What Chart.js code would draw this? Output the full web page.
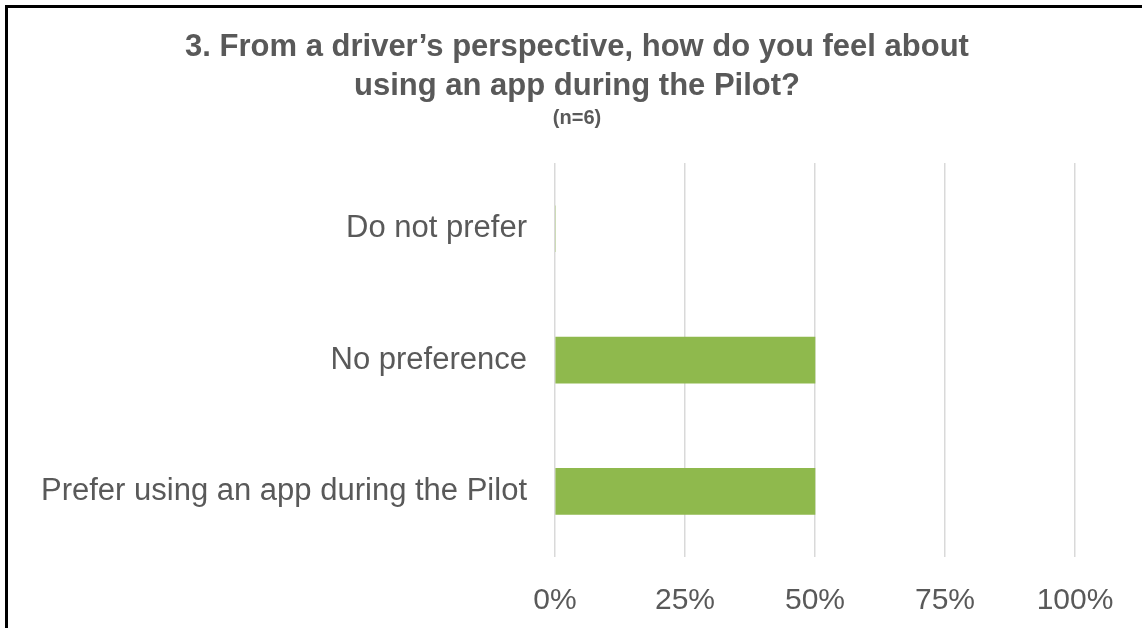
<!DOCTYPE html>
<html>
<head>
<meta charset="utf-8">
<script src="https://cdn.jsdelivr.net/npm/chart.js@4"></script>
<style>
    html, body { margin: 0; padding: 0; background: #fff; }
    #wrap { position: relative; width: 1142px; height: 628px; overflow: hidden; }
    #frame {
        position: absolute; left: 5px; top: 5px; width: 1200px; height: 700px;
        border-left: 3px solid #000; border-top: 3px solid #000; pointer-events: none;
    }
</style>
</head>
<body>
<div id="wrap">
    <canvas id="surveyChart" width="1142" height="628"></canvas>
    <div id="frame"></div>
</div>
<script>
// Chart data
const titleLines = ["3. From a driver\u2019s perspective, how do you feel about", "using an app during the Pilot?"];
const sampleNote = "(n=6)";
const categories = ["Do not prefer", "No preference", "Prefer using an app during the Pilot"];
const percentValues = [0, 50, 50];
const tickValues = [0, 25, 50, 75, 100];

const textColor = '#595959';
const fontFamily = '"Liberation Sans", Arial, sans-serif';

const ctx = document.getElementById('surveyChart').getContext('2d');
window.surveyChart = new Chart(ctx, {
    type: 'bar',
    data: {
        labels: categories,
        datasets: [{
            label: 'Share',
            data: percentValues,
            backgroundColor: '#8fb94d',
            barThickness: 46
        }]
    },
    options: {
        indexAxis: 'y',
        responsive: false,
        animation: false,
        layout: {
            padding: { left: 12, right: 0, top: 0, bottom: 0 }
        },
        plugins: {
            legend: { display: false },
            tooltip: { enabled: false },
            title: {
                display: true,
                text: titleLines,
                color: textColor,
                font: { family: fontFamily, size: 31, weight: 'bold', lineHeight: 1.26 },
                padding: { top: 28, bottom: 0 }
            },
            subtitle: {
                display: true,
                text: sampleNote,
                color: textColor,
                font: { family: fontFamily, size: 20, weight: 'bold', lineHeight: 1.2 },
                padding: { top: 0, bottom: 33 }
            }
        },
        scales: {
            x: {
                min: 0,
                max: 100,
                afterBuildTicks: (scale) => {
                    scale.ticks = tickValues.map(v => ({ value: v }));
                },
                afterFit: (scale) => { scale.height = 71; },
                grid: { color: '#d9d9d9', lineWidth: 1.5, drawTicks: false },
                border: { display: false },
                ticks: {
                    color: textColor,
                    padding: 26,
                    font: { family: fontFamily, size: 30 },
                    callback: (v) => v + '%'
                }
            },
            y: {
                afterFit: (scale) => { scale.width = 543; },
                grid: { display: false },
                border: { display: false },
                ticks: {
                    color: textColor,
                    padding: 20,
                    font: { family: fontFamily, size: 31 }
                }
            },
            // empty right-hand axis keeps the plot's right margin
            spacer: {
                type: 'linear',
                position: 'right',
                afterFit: (scale) => { scale.width = 67; },
                grid: { display: false },
                border: { display: false },
                ticks: { display: false }
            }
        }
    }
});
</script>
</body>
</html>
